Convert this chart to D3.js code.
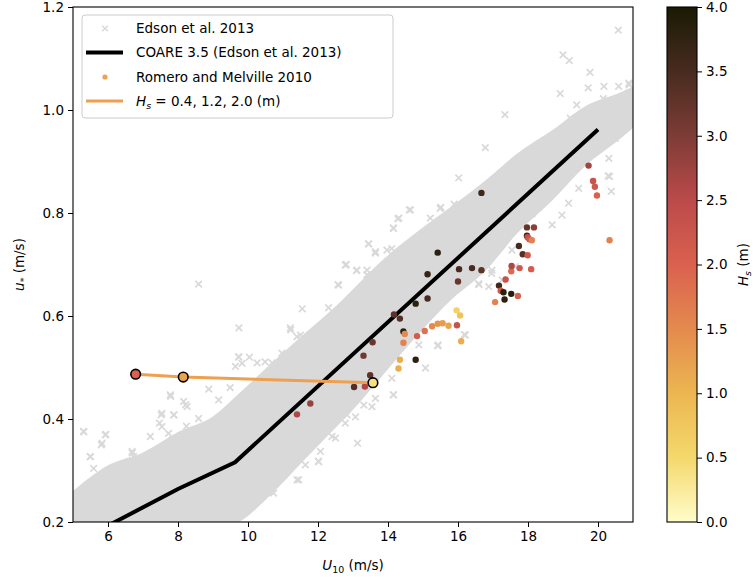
<!DOCTYPE html>
<html>
<head>
<meta charset="utf-8">
<script src="https://cdn.jsdelivr.net/npm/d3@7"></script>
<style>
  body { margin: 0; background: #fff; }
  svg text { font-family: "DejaVu Sans", sans-serif; fill: #000; }
</style>
</head>
<body>
<svg id="chart"></svg>
<script>
// COARE 3.5 curve
const coareU = [5, 6.2, 8, 9.63, 20.0];
const coareV = [0.158, 0.2, 0.264, 0.316, 0.962];

// dense core of Edson et al. 2013 cloud (upper / lower edge)
const envU   = [5, 6, 7, 8, 9, 9.75, 10.7, 11.6, 12.6, 13, 13.9, 14.9, 15.8, 16.8, 17.7, 18.7, 19.6, 20.6, 21];
const envTop = [0.26, 0.31, 0.335, 0.375, 0.405, 0.45, 0.51, 0.565, 0.625, 0.652, 0.712, 0.767, 0.812, 0.864, 0.916, 0.961, 1.006, 1.033, 1.045];
const envBot = [0.15, 0.15, 0.15, 0.16, 0.18, 0.2, 0.256, 0.32, 0.39, 0.418, 0.489, 0.567, 0.631, 0.689, 0.761, 0.825, 0.889, 0.942, 0.965];

// scattered Edson et al. 2013 points around the core
const edsonU = [20.58, 19.0, 19.18, 19.77, 18.92, 20.15, 17.34, 16.78, 16.02, 14.61, 14.28, 14.15, 15.51, 15.89,
  13.44, 13.64, 12.81, 13.1, 13.41, 12.57, 8.59, 9.74, 11.55, 11.22, 11.38, 9.74, 10.04, 7.79, 8.22, 7.52, 7.88,
  7.47, 8.24, 5.3, 5.94, 5.81, 6.69, 5.5, 5.15, 14.15, 13.13, 15.42, 11.4, 16.96, 16.6, 16.18, 10.53, 12.01,
  12.83, 12.5, 20.17, 19.72, 19.39, 19.21, 20.58, 20.33, 20.89, 20.82, 20.38, 15.07,
  12.3, 12.59, 12.78, 11.21, 11.4, 11.5, 10.97, 10.69, 9.73, 9.83, 9.64, 10.26, 10.49, 8.88, 9.16, 9.49, 7.78,
  8.16, 8.26, 7.54, 7.88, 7.54, 8.59, 7.21, 5.92, 5.83, 5.31, 5.49, 5.59, 6.69, 6.73, 7.73, 7.83, 5.11, 11.45,
  11.64, 12.02, 10.73, 10.49, 10.21, 9.92, 9.64, 9.35, 12.4, 12.5, 12.07, 12.78,
  14.64, 14.16, 14.31, 13.45, 13.64, 13.97, 14.11, 13.11, 13.4, 13.4, 15.21, 15.49, 15.02, 20.59, 20.88, 20.31,
  20.69, 20.21, 20.49, 20.31, 20.29, 19.45, 19.16, 18.69, 18.97, 18.11, 18.31, 16.88, 16.59, 17.26, 16.21, 15.43,
  14.88, 14.11, 14.16, 13.64, 13.31, 13.54, 13.07, 17.64, 16.97, 17.54];
const edsonV = [1.155, 1.107, 1.096, 1.073, 1.032, 1.022, 0.991, 0.927, 0.868, 0.806, 0.789, 0.771, 0.811, 0.817,
  0.74, 0.722, 0.7, 0.688, 0.68, 0.661, 0.662, 0.577, 0.614, 0.573, 0.537, 0.52, 0.52, 0.444, 0.428, 0.408, 0.408,
  0.392, 0.386, 0.376, 0.37, 0.35, 0.334, 0.327, 0.253, 0.447, 0.353, 0.542, 0.282, 0.683, 0.661, 0.564, 0.271, 0.318,
  0.408, 0.363, 1.046, 1.043, 1.01, 0.984, 0.991, 0.871, 1.049, 1.023, 0.842, 0.499,
  0.616, 0.66, 0.699, 0.577, 0.56, 0.563, 0.528, 0.509, 0.521, 0.508, 0.502, 0.509, 0.511, 0.458, 0.437, 0.461, 0.447,
  0.434, 0.424, 0.411, 0.408, 0.385, 0.401, 0.366, 0.369, 0.353, 0.375, 0.327, 0.304, 0.337, 0.327, 0.372, 0.359, 0.252, 0.282,
  0.311, 0.317, 0.256, 0.269, 0.239, 0.252, 0.22, 0.233, 0.366, 0.398, 0.337, 0.392,
  0.806, 0.77, 0.79, 0.74, 0.725, 0.728, 0.731, 0.689, 0.689, 0.68, 0.79, 0.809, 0.761, 1.046, 1.052, 1.006,
  1.019, 0.961, 0.945, 0.906, 0.872, 0.848, 0.819, 0.777, 0.796, 0.799, 0.812, 0.657, 0.663, 0.67, 0.563, 0.544,
  0.544, 0.479, 0.447, 0.44, 0.427, 0.424, 0.404, 0.696, 0.689, 0.728];

// Romero and Melville 2010
const rmU = [11.4, 11.78, 13.03, 13.34, 13.49, 13.3, 13.56, 14.17, 14.34, 14.44, 14.48, 14.44, 14.34, 14.3, 14.79,
  14.79, 15.13, 15.13, 15.42, 14.83, 15.05, 15.26, 15.42, 15.56, 15.73, 15.97, 15.96, 16.06, 16.09, 16.0, 16.03,
  16.4, 16.67, 16.67, 17.06, 17.17, 17.22, 17.3, 17.33, 17.52, 17.36, 17.52, 17.53, 17.71, 17.76, 17.74, 17.85,
  17.99, 18.09, 17.97, 17.99, 18.04, 18.11, 17.97, 18.17, 19.73, 19.86, 19.91, 19.97, 20.33];
const rmV = [0.409, 0.43, 0.462, 0.463, 0.485, 0.523, 0.549, 0.603, 0.595, 0.57, 0.565, 0.548, 0.515, 0.498, 0.515,
  0.624, 0.634, 0.681, 0.723, 0.561, 0.571, 0.58, 0.585, 0.586, 0.581, 0.582, 0.611, 0.601, 0.551, 0.667, 0.691,
  0.693, 0.689, 0.839, 0.627, 0.659, 0.649, 0.646, 0.632, 0.643, 0.671, 0.687, 0.697, 0.639, 0.693, 0.736, 0.72,
  0.718, 0.691, 0.756, 0.753, 0.749, 0.747, 0.772, 0.772, 0.892, 0.862, 0.851, 0.834, 0.747];
const rmHs = [2.6, 2.8, 3.4, 2.6, 3.3, 3.1, 3.2, 3.3, 3.4, 3.8, 1.5, 1.6, 1.1, 1.1, 3.8,
  3.8, 3.5, 3.7, 3.8, 2.1, 1.8, 1.5, 1.4, 1.3, 1.2, 2.3, 0.6, 0.8, 1.1, 3.2, 3.5,
  3.5, 3.3, 3.6, 1.6, 3.6, 2.2, 3.8, 3.8, 3.9, 2.3, 1.9, 2.6, 2.0, 2.2, 3.5, 3.4,
  2.2, 2.1, 3.6, 2.4, 2.2, 1.6, 3.2, 2.9, 2.7, 2.3, 2.2, 2.0, 1.6];

// model line for fixed Hs
const hsLineU  = [6.79, 8.15, 13.57];
const hsLineV  = [0.487, 0.4815, 0.4705];
const hsLineHs = [2.0, 1.2, 0.4];

// colour map stops (0..4 m)
const cmapStops  = [0, 0.5, 1.0, 1.5, 2.0, 2.5, 3.0, 3.5, 4.0];
const cmapColors = ['#fffdca', '#f4d86c', '#ecb651', '#e48a4e', '#da614f', '#bb4a4a', '#7d3c36', '#482b1f', '#1a1a03'];

const xTicks  = [6, 8, 10, 12, 14, 16, 18, 20];
const yTicks  = [0.2, 0.4, 0.6, 0.8, 1.0, 1.2];
const cbTicks = [0, 0.5, 1, 1.5, 2, 2.5, 3, 3.5, 4];

const width = 755, height = 579;
const m = {left: 73, right: 633, top: 7, bottom: 522};
const fs = 13.5;

const svg = d3.select('#chart')
  .attr('width', width)
  .attr('height', height)
  .attr('viewBox', [0, 0, width, height]);

const x = d3.scaleLinear().domain([5, 21]).range([m.left, m.right]);
const y = d3.scaleLinear().domain([0.2, 1.2]).range([m.bottom, m.top]);
const color = d3.scaleLinear().domain(cmapStops).range(cmapColors).interpolate(d3.interpolateRgb).clamp(true);

svg.append('defs').append('clipPath').attr('id', 'plotclip')
  .append('rect')
  .attr('x', m.left).attr('y', m.top)
  .attr('width', m.right - m.left).attr('height', m.bottom - m.top);

const plot = svg.append('g').attr('clip-path', 'url(#plotclip)');

const grey = '#d9d9d9';

// Edson cloud core
const envData = envU.map((u, i) => ({u: u, top: envTop[i], bot: envBot[i]}));
plot.append('path')
  .datum(envData)
  .attr('fill', grey)
  .attr('d', d3.area().curve(d3.curveMonotoneX)
    .x(d => x(d.u)).y0(d => y(d.bot)).y1(d => y(d.top)));

// scattered x markers
const xMark = d3.symbol().type(d3.symbolX).size(30);
plot.append('g')
  .selectAll('path')
  .data(edsonU.map((u, i) => ({u: u, v: edsonV[i]})))
  .join('path')
    .attr('d', xMark)
    .attr('transform', d => `translate(${x(d.u)},${y(d.v)})`)
    .attr('fill', 'none')
    .attr('stroke', grey)
    .attr('stroke-width', 1.7);

// COARE line
plot.append('path')
  .datum(coareU.map((u, i) => [u, coareV[i]]))
  .attr('fill', 'none')
  .attr('stroke', '#000')
  .attr('stroke-width', 4)
  .attr('d', d3.line().x(d => x(d[0])).y(d => y(d[1])));

// Romero and Melville dots
plot.append('g')
  .selectAll('circle')
  .data(rmU.map((u, i) => ({u: u, v: rmV[i], hs: rmHs[i]})))
  .join('circle')
    .attr('cx', d => x(d.u))
    .attr('cy', d => y(d.v))
    .attr('r', 3.2)
    .attr('fill', d => color(d.hs));

// Hs line + markers
const lineOrange = '#eea050';
plot.append('path')
  .datum(hsLineU.map((u, i) => [u, hsLineV[i]]))
  .attr('fill', 'none')
  .attr('stroke', lineOrange)
  .attr('stroke-width', 3)
  .attr('d', d3.line().x(d => x(d[0])).y(d => y(d[1])));

plot.append('g')
  .selectAll('circle')
  .data(hsLineU.map((u, i) => ({u: u, v: hsLineV[i], hs: hsLineHs[i]})))
  .join('circle')
    .attr('cx', d => x(d.u))
    .attr('cy', d => y(d.v))
    .attr('r', 4.8)
    .attr('fill', d => color(d.hs))
    .attr('stroke', '#000')
    .attr('stroke-width', 1.6);

// axes
const xAxis = svg.append('g')
  .attr('transform', `translate(0,${m.bottom})`)
  .call(d3.axisBottom(x).tickValues(xTicks).tickSize(5).tickPadding(4).tickFormat(d3.format('d')));
const yAxis = svg.append('g')
  .attr('transform', `translate(${m.left},0)`)
  .call(d3.axisLeft(y).tickValues(yTicks).tickSize(5).tickPadding(4).tickFormat(d3.format('.1f')));
[xAxis, yAxis].forEach(a => {
  a.select('.domain').remove();
  a.selectAll('text').attr('font-size', fs).attr('font-family', 'DejaVu Sans');
  a.selectAll('line').attr('stroke', '#000').attr('stroke-width', 1);
});

svg.append('rect')
  .attr('x', m.left).attr('y', m.top)
  .attr('width', m.right - m.left).attr('height', m.bottom - m.top)
  .attr('fill', 'none').attr('stroke', '#000').attr('stroke-width', 1.1);

// axis labels
const xl = svg.append('text')
  .attr('x', (m.left + m.right) / 2).attr('y', 570)
  .attr('text-anchor', 'middle').attr('font-size', fs);
xl.append('tspan').attr('font-style', 'italic').text('U');
xl.append('tspan').attr('font-size', fs * 0.7).attr('dy', 3).text('10');
xl.append('tspan').attr('dy', -3).text(' (m/s)');

const yl = svg.append('text')
  .attr('transform', `translate(24,${(m.top + m.bottom) / 2}) rotate(-90)`)
  .attr('text-anchor', 'middle').attr('font-size', fs);
yl.append('tspan').attr('font-style', 'italic').text('u');
yl.append('tspan').attr('font-size', fs * 0.7).attr('dy', 3).text('*');
yl.append('tspan').attr('dy', -3).text(' (m/s)');

// legend
const lg = svg.append('g');
lg.append('rect')
  .attr('x', 82).attr('y', 15).attr('width', 311).attr('height', 103)
  .attr('rx', 3).attr('fill', '#fff').attr('fill-opacity', 0.8)
  .attr('stroke', '#cccccc').attr('stroke-width', 1);
const rowY = [28.5, 52.5, 77, 101];
lg.append('path')
  .attr('d', d3.symbol().type(d3.symbolX).size(22))
  .attr('transform', `translate(105,${rowY[0]})`)
  .attr('stroke', grey).attr('stroke-width', 1.4).attr('fill', 'none');
lg.append('line')
  .attr('x1', 86).attr('x2', 123).attr('y1', rowY[1]).attr('y2', rowY[1])
  .attr('stroke', '#000').attr('stroke-width', 4);
lg.append('circle')
  .attr('cx', 105).attr('cy', rowY[2]).attr('r', 2.6).attr('fill', lineOrange);
lg.append('line')
  .attr('x1', 86).attr('x2', 123).attr('y1', rowY[3]).attr('y2', rowY[3])
  .attr('stroke', lineOrange).attr('stroke-width', 3);
const lgText = ['Edson et al. 2013', 'COARE 3.5 (Edson et al. 2013)', 'Romero and Melville 2010'];
lgText.forEach((t, i) => {
  lg.append('text').attr('x', 136).attr('y', rowY[i]).attr('dy', '0.35em')
    .attr('font-size', fs).text(t);
});
const hsT = lg.append('text').attr('x', 136).attr('y', rowY[3]).attr('dy', '0.35em').attr('font-size', fs);
hsT.append('tspan').attr('font-style', 'italic').text('H');
hsT.append('tspan').attr('font-style', 'italic').attr('font-size', fs * 0.7).attr('dy', 3).text('s');
hsT.append('tspan').attr('dy', -3).text(' = 0.4, 1.2, 2.0 (m)');

// colorbar
const cb = {x: 667, w: 30};
const cbY = d3.scaleLinear().domain([0, 4]).range([m.bottom, m.top]);
const grad = svg.select('defs').append('linearGradient')
  .attr('id', 'cbgrad').attr('x1', 0).attr('y1', 1).attr('x2', 0).attr('y2', 0);
grad.selectAll('stop')
  .data(cmapStops)
  .join('stop')
    .attr('offset', d => d / 4)
    .attr('stop-color', d => color(d));
svg.append('rect')
  .attr('x', cb.x).attr('y', m.top)
  .attr('width', cb.w).attr('height', m.bottom - m.top)
  .attr('fill', 'url(#cbgrad)')
  .attr('stroke', '#000').attr('stroke-width', 1.1);
const cbAxis = svg.append('g')
  .attr('transform', `translate(${cb.x + cb.w},0)`)
  .call(d3.axisRight(cbY).tickValues(cbTicks).tickSize(5).tickPadding(4).tickFormat(d3.format('.1f')));
cbAxis.select('.domain').remove();
cbAxis.selectAll('text').attr('font-size', fs).attr('font-family', 'DejaVu Sans');
cbAxis.selectAll('line').attr('stroke', '#000');

const cl = svg.append('text')
  .attr('transform', `translate(748,${(m.top + m.bottom) / 2}) rotate(-90)`)
  .attr('text-anchor', 'middle').attr('font-size', fs);
cl.append('tspan').attr('font-style', 'italic').text('H');
cl.append('tspan').attr('font-style', 'italic').attr('font-size', fs * 0.7).attr('dy', 3).text('s');
cl.append('tspan').attr('dy', -3).text(' (m)');
</script>
</body>
</html>
